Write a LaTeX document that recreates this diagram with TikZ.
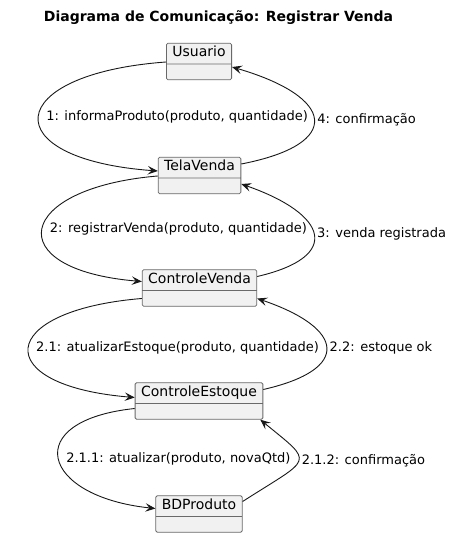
\documentclass[tikz,border=0pt]{standalone}
\usepackage{fontspec}
\setmainfont{DejaVu Sans}
\usetikzlibrary{shapes.multipart, arrows.meta}

\definecolor{objfill}{HTML}{F1F1F1}
\definecolor{objline}{HTML}{181818}

\begin{document}
\begin{tikzpicture}[x=1pt, y=-1pt,
    obj/.style={draw=objline!65, fill=objfill, line width=0.8pt, rounded corners=1.5pt,
        rectangle split, rectangle split parts=2,
        rectangle split empty part height=12pt, rectangle split empty part depth=0pt,
        inner xsep=6pt, inner ysep=1.5pt, font=\fontsize{14}{17}\selectfont},
    msg/.style={draw=objline, line width=0.9pt, -{Stealth[length=10pt, width=8.5pt, inset=4pt]}},
    lbl/.style={font=\fontsize{13}{15}\selectfont, inner sep=2pt, anchor=west, pos=0.5}]
    \useasboundingbox (0,0) rectangle (449,537);

    % title
    \node[font=\bfseries\fontsize{14}{17}\selectfont] (title) at (218.5, 18)
        {Diagrama de Comunicação: Registrar Venda};

    % objects
    \node[obj] (usu) at (199, 61.5) {\strut Usuario};
    \node[obj] (tela) at (199.5, 175.5) {\strut TelaVenda};
    \node[obj] (cvenda) at (199.5, 288) {\strut ControleVenda};
    \node[obj] (cestoque) at (199, 401) {\strut ControleEstoque};
    \node[obj] (bd) at (199, 514) {\strut BDProduto};

    % Usuario <-> TelaVenda
    \draw[msg] ([yshift=-0.5pt]usu.west) .. controls +(-164,12) and +(-164,-12) .. ([yshift=4.5pt]tela.west)
        node[lbl, xshift=5pt] {1: informaProduto(produto, quantidade)};
    \draw[msg] ([yshift=11.5pt]tela.east) .. controls +(103,-20) and +(103,30) .. ([yshift=-5.5pt]usu.east)
        node[lbl, xshift=1pt] {4: confirmação};

    % TelaVenda <-> ControleVenda
    \draw[msg] ([yshift=-0.5pt]tela.west) .. controls +(-143,12) and +(-143,-12) .. ([yshift=6.5pt]cvenda.west)
        node[lbl, xshift=5pt] {2: registrarVenda(produto, quantidade)};
    \draw[msg] ([yshift=11.5pt]cvenda.east) .. controls +(86,-20) and +(86,30) .. ([yshift=-8.5pt]tela.east)
        node[lbl, xshift=1pt] {3: venda registrada};

    % ControleVenda <-> ControleEstoque
    \draw[msg] ([yshift=-10.5pt]cvenda.west) .. controls +(-146,12) and +(-146,-12) .. ([yshift=3.5pt]cestoque.west)
        node[lbl, xshift=5pt] {2.1: atualizarEstoque(produto, quantidade)};
    \draw[msg] ([yshift=11.5pt]cestoque.east) .. controls +(88,-20) and +(88,30) .. ([yshift=-10.5pt]cvenda.east)
        node[lbl, xshift=1pt] {2.2: estoque ok};

    % ControleEstoque <-> BDProduto
    \draw[msg] ([yshift=-7.5pt]cestoque.west) .. controls +(-115,12) and +(-115,-12) .. ([yshift=5.5pt]bd.west)
        node[lbl, xshift=5pt] {2.1.1: atualizar(produto, novaQtd)};
    \draw[msg] ([yshift=12.5pt]bd.east) .. controls +(70,-45) and +(55,45) .. ([xshift=-3pt]cestoque.south east)
        node[lbl, xshift=1pt] {2.1.2: confirmação};
\end{tikzpicture}
\end{document}
